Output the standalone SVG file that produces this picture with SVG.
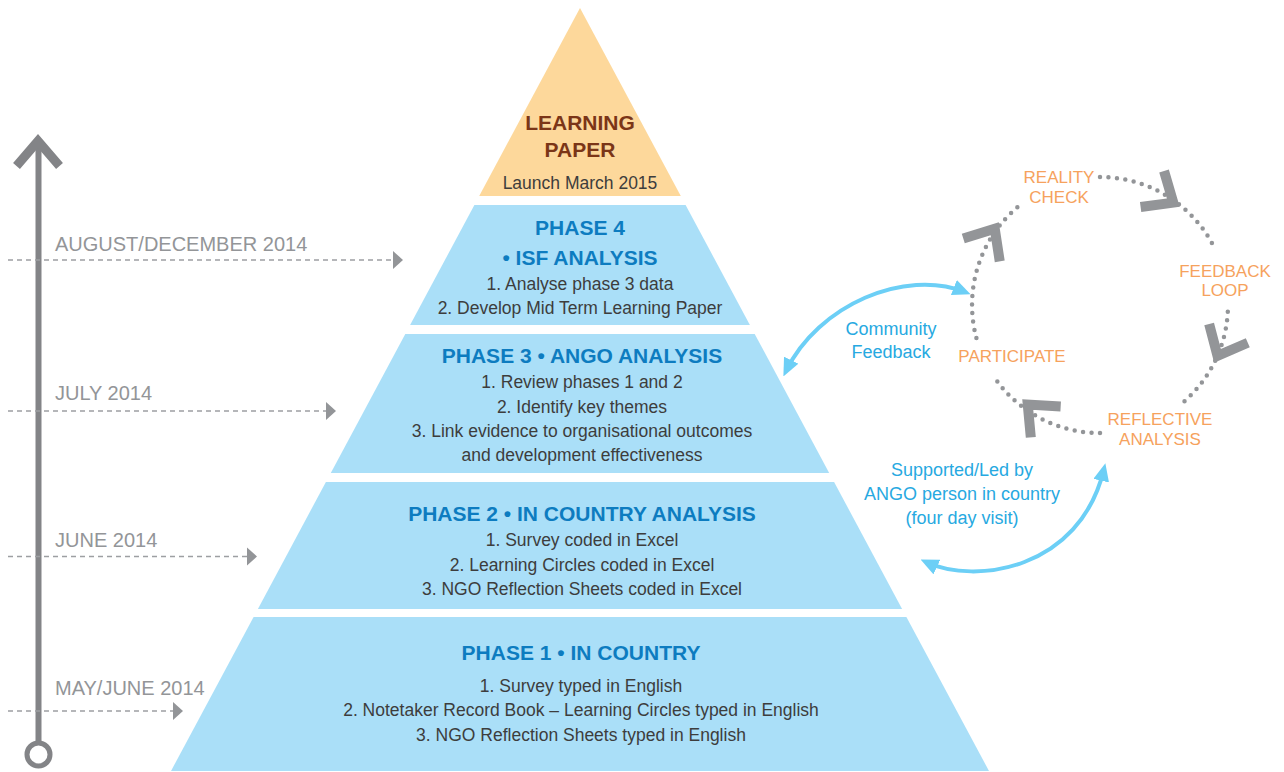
<svg xmlns="http://www.w3.org/2000/svg" width="1284" height="772" viewBox="0 0 1284 772">
<style>
text{font-family:"Liberation Sans",Arial,sans-serif}
.date{fill:#939598;font-size:20px}
.title{fill:#0d7cc0;font-size:21px;font-weight:bold;text-anchor:middle}
.body{fill:#3d3d3d;font-size:17.5px;text-anchor:middle}
.lp{fill:#7b3517;font-size:21px;font-weight:bold;text-anchor:middle}
.cyc{fill:#f6a25d;font-size:17px;text-anchor:middle}
.cyan{fill:#27a9e1;font-size:18px;text-anchor:middle}
.tier{fill:#aadff8}
.dash{stroke:#9d9fa2;stroke-width:1.5;stroke-dasharray:5 4;fill:none}
.dots{stroke:#939598;stroke-width:4.5;stroke-linecap:round;stroke-dasharray:0 8.5;fill:none}
.chev{stroke:#939598;stroke-width:10;fill:none;stroke-linejoin:miter;stroke-miterlimit:6}
.blue{stroke:#6ccff6;stroke-width:4;fill:none}
</style>
<defs>
<path id="chevron" d="M-33,-21.5 L-8,0 L-33,21.5"/>
<polygon id="tri" points="0,-9 10,0 0,9" fill="#939598"/>
<marker id="ah" viewBox="0 0 18 16" refX="12" refY="8" markerWidth="18" markerHeight="16" markerUnits="userSpaceOnUse" orient="auto-start-reverse">
<path d="M0,0 L18,8 L0,16 z" fill="#6ccff6"/>
</marker>
</defs>

<g id="timeline">
<line x1="38.5" y1="142" x2="38.5" y2="742" stroke="#838487" stroke-width="6"/>
<use href="#chevron" class="chev" style="stroke:#838487;stroke-width:9" transform="translate(38,133) rotate(-90)"/>
<circle cx="38.5" cy="754.5" r="11.5" fill="#fff" stroke="#838487" stroke-width="5"/>
</g>

<g id="date-labels">
<text class="date" x="55" y="251">AUGUST/DECEMBER 2014</text>
<text class="date" x="55" y="400">JULY 2014</text>
<text class="date" x="55" y="547">JUNE 2014</text>
<text class="date" x="55" y="695">MAY/JUNE 2014</text>
</g>

<g id="learning-paper">
<polygon points="580,8 680.8,196 479.2,196" fill="#fdd89b"/>
<text class="lp" x="580" y="130">LEARNING</text>
<text class="lp" x="580" y="157">PAPER</text>
<text class="body" x="580" y="189">Launch March 2015</text>
</g>

<g id="phase4">
<polygon class="tier" points="474.4,205 685.6,205 749.9,325 410.1,325"/>
<text class="title" x="580" y="235">PHASE 4</text>
<text class="title" x="580" y="265">• ISF ANALYSIS</text>
<text class="body" x="580" y="290">1. Analyse phase 3 data</text>
<text class="body" x="580" y="314">2. Develop Mid Term Learning Paper</text>
</g>

<g id="phase3">
<polygon class="tier" points="405.3,334 754.7,334 829.2,473 330.8,473"/>
<text class="title" x="582" y="363">PHASE 3 • ANGO ANALYSIS</text>
<text class="body" x="582" y="388">1. Review phases 1 and 2</text>
<text class="body" x="582" y="413">2. Identify key themes</text>
<text class="body" x="582" y="437">3. Link evidence to organisational outcomes</text>
<text class="body" x="582" y="461">and development effectiveness</text>
</g>

<g id="phase2">
<polygon class="tier" points="325.9,482 834.1,482 902.1,609 257.9,609"/>
<text class="title" x="582" y="521">PHASE 2 • IN COUNTRY ANALYSIS</text>
<text class="body" x="582" y="546">1. Survey coded in Excel</text>
<text class="body" x="582" y="571">2. Learning Circles coded in Excel</text>
<text class="body" x="582" y="595">3. NGO Reflection Sheets coded in Excel</text>
</g>

<g id="phase1">
<polygon class="tier" points="253.6,617 906.4,617 989,771 171,771"/>
<text class="title" x="581" y="660">PHASE 1 • IN COUNTRY</text>
<text class="body" x="581" y="692">1. Survey typed in English</text>
<text class="body" x="581" y="716">2. Notetaker Record Book – Learning Circles typed in English</text>
<text class="body" x="581" y="741">3. NGO Reflection Sheets typed in English</text>
</g>

<g id="cycle-labels">
<text class="cyc" x="1059" y="183">REALITY</text>
<text class="cyc" x="1059" y="203">CHECK</text>
<text class="cyc" x="1225" y="277">FEEDBACK</text>
<text class="cyc" x="1225" y="296">LOOP</text>
<text class="cyc" x="1160" y="425">REFLECTIVE</text>
<text class="cyc" x="1160" y="445">ANALYSIS</text>
<text class="cyc" x="1012" y="362">PARTICIPATE</text>
</g>

<g id="cyan-labels">
<text class="cyan" x="891" y="335">Community</text>
<text class="cyan" x="891" y="358">Feedback</text>
<text class="cyan" x="962" y="476">Supported/Led by</text>
<text class="cyan" x="962" y="500">ANGO person in country</text>
<text class="cyan" x="962" y="524">(four day visit)</text>
</g>

<g id="connectors">
<line class="dash" x1="8" y1="260" x2="393" y2="260"/>
<use href="#tri" transform="translate(393,260)"/>
<line class="dash" x1="8" y1="411" x2="326" y2="411"/>
<use href="#tri" transform="translate(326,411)"/>
<line class="dash" x1="8" y1="556.5" x2="247" y2="556.5"/>
<use href="#tri" transform="translate(247,556.5)"/>
<line class="dash" x1="8" y1="711" x2="173" y2="711"/>
<use href="#tri" transform="translate(173,711)"/>

<path class="dots" d="M1100,177 A128,128 0 0 1 1215,248.9"/>
<path class="dots" d="M1227.8,311.7 A128,128 0 0 1 1184,401.6"/>
<path class="dots" d="M1100,433 A128,128 0 0 1 995.1,378.4"/>
<path class="dots" d="M976.4,338.1 A128,128 0 0 1 1017.7,207"/>
<use href="#chevron" class="chev" transform="translate(1180,207) rotate(33)"/>
<use href="#chevron" class="chev" transform="translate(1214,363) rotate(116)"/>
<use href="#chevron" class="chev" transform="translate(1022,399) rotate(224)"/>
<use href="#chevron" class="chev" transform="translate(999,222) rotate(-58)"/>

<path class="blue" d="M786,371 C818,305 905,268 965,292" marker-start="url(#ah)" marker-end="url(#ah)"/>
<path class="blue" d="M926,562 C975,585 1080,570 1104,469" marker-start="url(#ah)" marker-end="url(#ah)"/>
</g>
</svg>
